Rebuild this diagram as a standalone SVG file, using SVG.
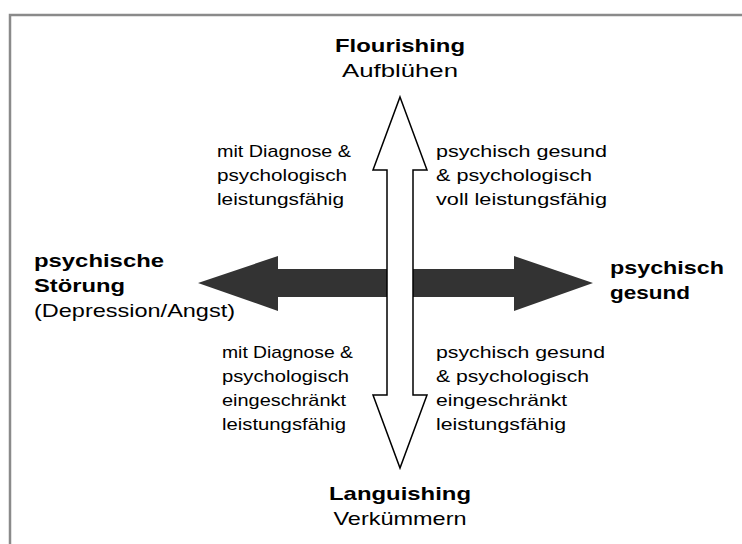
<svg xmlns="http://www.w3.org/2000/svg" width="742" height="544" viewBox="0 0 742 544">
<style>
text{font-family:"Liberation Sans",Arial,sans-serif;fill:#000}
.b{font-weight:bold;font-size:19px}
.r{font-size:19px}
.s{font-size:17px}
.c{text-anchor:middle}
</style>
<rect width="742" height="544" fill="#fff"/>
<path d="M10,544 V15 H742" fill="none" stroke="#8a8a8a" stroke-width="2.5"/>
<g id="connectors">
<polygon id="h-arrow" points="198,283 278,256 278,269 514,269 514,256 593,283 514,311 514,297 278,297 278,311" fill="#333"/>
<polygon id="v-arrow" points="400,97 427,170 413,170 413,395 427,395 400,468 373,395 387,395 387,170 373,170" fill="#fff" stroke="#000" stroke-width="1.5" stroke-linejoin="miter"/>
</g>
<g id="top">
<text class="b c" x="400" y="52" textLength="130" lengthAdjust="spacingAndGlyphs">Flourishing</text>
<text class="r c" x="400" y="77" textLength="116" lengthAdjust="spacingAndGlyphs">Aufblühen</text>
</g>
<g id="bottom">
<text class="b c" x="400" y="500" textLength="142" lengthAdjust="spacingAndGlyphs">Languishing</text>
<text class="r c" x="400" y="525" textLength="133" lengthAdjust="spacingAndGlyphs">Verkümmern</text>
</g>
<g id="left">
<text class="b" x="34" y="267" textLength="130" lengthAdjust="spacingAndGlyphs">psychische</text>
<text class="b" x="34" y="292" textLength="91" lengthAdjust="spacingAndGlyphs">Störung</text>
<text class="r" x="34" y="317" textLength="201" lengthAdjust="spacingAndGlyphs">(Depression/Angst)</text>
</g>
<g id="right">
<text class="b" x="610" y="274" textLength="114" lengthAdjust="spacingAndGlyphs">psychisch</text>
<text class="b" x="610" y="299" textLength="80" lengthAdjust="spacingAndGlyphs">gesund</text>
</g>
<g id="q-top-left">
<text class="s" x="217" y="157" textLength="134" lengthAdjust="spacingAndGlyphs">mit Diagnose &amp;</text>
<text class="s" x="217" y="181" textLength="130" lengthAdjust="spacingAndGlyphs">psychologisch</text>
<text class="s" x="217" y="205" textLength="127" lengthAdjust="spacingAndGlyphs">leistungsfähig</text>
</g>
<g id="q-top-right">
<text class="s" x="436" y="157" textLength="171" lengthAdjust="spacingAndGlyphs">psychisch gesund</text>
<text class="s" x="436" y="181" textLength="156" lengthAdjust="spacingAndGlyphs">&amp; psychologisch</text>
<text class="s" x="436" y="205" textLength="171" lengthAdjust="spacingAndGlyphs">voll leistungsfähig</text>
</g>
<g id="q-bottom-left">
<text class="s" x="222" y="358" textLength="131" lengthAdjust="spacingAndGlyphs">mit Diagnose &amp;</text>
<text class="s" x="222" y="382" textLength="127" lengthAdjust="spacingAndGlyphs">psychologisch</text>
<text class="s" x="222" y="406" textLength="124" lengthAdjust="spacingAndGlyphs">eingeschränkt</text>
<text class="s" x="222" y="430" textLength="124" lengthAdjust="spacingAndGlyphs">leistungsfähig</text>
</g>
<g id="q-bottom-right">
<text class="s" x="436" y="358" textLength="169" lengthAdjust="spacingAndGlyphs">psychisch gesund</text>
<text class="s" x="436" y="382" textLength="153" lengthAdjust="spacingAndGlyphs">&amp; psychologisch</text>
<text class="s" x="436" y="406" textLength="131" lengthAdjust="spacingAndGlyphs">eingeschränkt</text>
<text class="s" x="436" y="430" textLength="130" lengthAdjust="spacingAndGlyphs">leistungsfähig</text>
</g>
</svg>
